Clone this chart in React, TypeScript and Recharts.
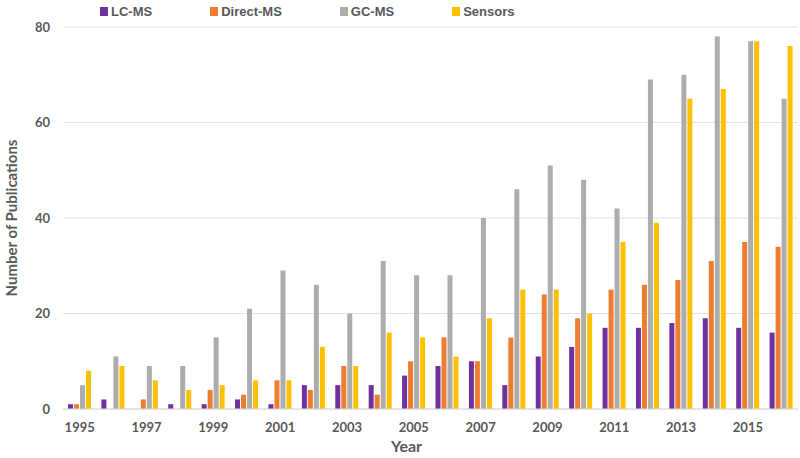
import { BarChart, Bar, XAxis, YAxis, CartesianGrid, Legend } from "recharts";

const years = [
  "1995", "1996", "1997", "1998", "1999", "2000", "2001", "2002", "2003", "2004", "2005",
  "2006", "2007", "2008", "2009", "2010", "2011", "2012", "2013", "2014", "2015", "2016",
];
const lcMs = [1, 2, 0, 1, 1, 2, 1, 5, 5, 5, 7, 9, 10, 5, 11, 13, 17, 17, 18, 19, 17, 16];
const directMs = [1, 0, 2, 0, 4, 3, 6, 4, 9, 3, 10, 15, 10, 15, 24, 19, 25, 26, 27, 31, 35, 34];
const gcMs = [5, 11, 9, 9, 15, 21, 29, 26, 20, 31, 28, 28, 40, 46, 51, 48, 42, 69, 70, 78, 77, 65];
const sensors = [8, 9, 6, 4, 5, 6, 6, 13, 9, 16, 15, 11, 19, 25, 25, 20, 35, 39, 65, 67, 77, 76];
const yTicks = [0, 20, 40, 60, 80];

const series = [
  { key: "lcMs", name: "LC-MS", color: "#7030A0" },
  { key: "directMs", name: "Direct-MS", color: "#ED7D31" },
  { key: "gcMs", name: "GC-MS", color: "#ADADAD" },
  { key: "sensors", name: "Sensors", color: "#FFC000" },
];

const data = years.map((year, i) => ({
  year,
  lcMs: lcMs[i],
  directMs: directMs[i],
  gcMs: gcMs[i],
  sensors: sensors[i],
}));

const textColor = "#595959";
const font = "Lato, 'Liberation Sans', sans-serif";

function TopLegend() {
  return (
    <div style={{ display: "flex", alignItems: "center" }}>
      {series.map((s) => (
        <div key={s.key} style={{ display: "flex", alignItems: "center", marginRight: 58 }}>
          <div style={{ width: 8, height: 9, background: s.color, marginRight: 3 }} />
          <span
            style={{
              fontFamily: "'Liberation Sans Narrow', 'Liberation Sans', sans-serif",
              fontWeight: 700,
              fontSize: 13,
              color: textColor,
            }}
          >
            {s.name}
          </span>
        </div>
      ))}
    </div>
  );
}

export default function App() {
  return (
    <div style={{ position: "absolute", left: 0, top: 0, width: 800, height: 458, background: "#fff" }}>
      <BarChart
        width={800}
        height={458}
        data={data}
        margin={{ top: 12, right: 2, bottom: 0, left: 0 }}
        barSize={5}
        barGap={1}
      >
        <CartesianGrid vertical={false} stroke="#E3E3E3" />
        <XAxis
          dataKey="year"
          interval={1}
          tickLine={false}
          axisLine={{ stroke: "#D9D9D9" }}
          tickMargin={8}
          height={49}
          tick={{ fill: textColor, fontSize: 13, fontWeight: 700, fontFamily: font }}
          label={{
            value: "Year",
            position: "insideBottom",
            offset: 6,
            dx: -24,
            fill: textColor,
            fontSize: 16,
            fontWeight: 700,
            fontFamily: font,
          }}
        />
        <YAxis
          domain={[0, 80]}
          ticks={yTicks}
          width={63}
          tickLine={false}
          axisLine={false}
          tickMargin={7}
          tick={{ fill: textColor, fontSize: 13, fontWeight: 700, fontFamily: font }}
          label={{
            value: "Number of Publications",
            angle: -90,
            position: "insideLeft",
            offset: 12,
            fill: textColor,
            fontSize: 15,
            fontWeight: 700,
            fontFamily: font,
            style: { textAnchor: "middle" },
          }}
        />
        <Legend
          verticalAlign="top"
          align="left"
          content={<TopLegend />}
          wrapperStyle={{ left: 100, top: 4, width: 500 }}
        />
        {series.map((s) => (
          <Bar key={s.key} dataKey={s.key} name={s.name} fill={s.color} isAnimationActive={false} />
        ))}
      </BarChart>
    </div>
  );
}
